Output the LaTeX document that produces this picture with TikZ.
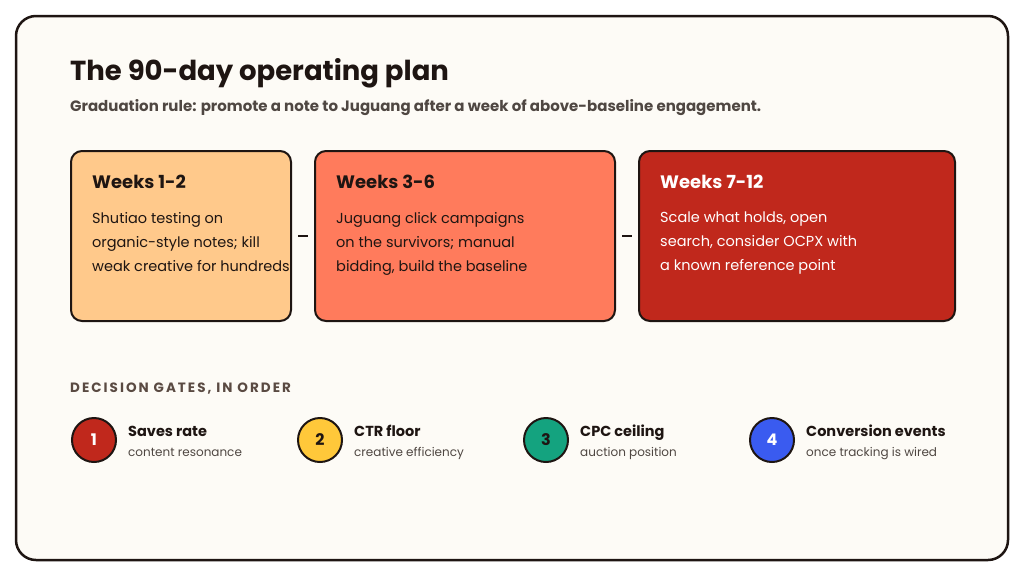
\documentclass[tikz,border=0pt]{standalone}
\usepackage{fontspec}
\setmainfont{Poppins}
\definecolor{bg}{HTML}{FDFBF6}
\definecolor{ink}{HTML}{1E1512}
\definecolor{sub}{HTML}{4F4742}
\definecolor{cA}{HTML}{FFC98B}
\definecolor{cB}{HTML}{FF7B5C}
\definecolor{cC}{HTML}{C0281C}
\definecolor{gY}{HTML}{FFC83A}
\definecolor{gG}{HTML}{14A37F}
\definecolor{gB}{HTML}{3A5BF0}
\definecolor{gate}{HTML}{5A4A42}
\begin{document}
\begin{tikzpicture}[x=1pt,y=-1pt,
 card/.style={draw=ink,line width=2pt,rounded corners=11pt,minimum height=170pt,anchor=north west},
 head/.style={anchor=base west,inner sep=0pt,font=\fontsize{18}{20}\selectfont\bfseries},
 body/.style={anchor=north west,align=left,font=\fontsize{14.5}{24}\selectfont,inner sep=0pt},
 dot/.style={circle,draw=ink,line width=2pt,minimum size=44pt,inner sep=0pt,font=\fontsize{16}{16}\selectfont\bfseries},
 gl/.style={anchor=base west,inner sep=0pt,font=\fontsize{14.5}{16}\selectfont\bfseries,text=ink},
 gs/.style={anchor=base west,inner sep=0pt,font=\fontsize{12}{13}\selectfont,text=sub},
 link/.style={draw=ink,line width=2.5pt}]
\useasboundingbox (0,0) rectangle (1024,576);
\fill[white] (0,0) rectangle (1024,576);
\draw[ink,fill=bg,line width=2.5pt,rounded corners=20pt] (16,16) rectangle (1008,560);
\node[anchor=base west,inner sep=0pt,text=ink,font=\fontsize{27.5}{30}\selectfont\bfseries] (t) at (70,80) {The 90-day operating plan};
\node[anchor=base west,inner sep=0pt,text=sub,font=\fontsize{15}{18}\selectfont\bfseries] (s) at (70,111) {Graduation rule: promote a note to Juguang after a week of above-baseline engagement.};
\node[card,fill=cA,minimum width=220pt] (c1) at (70,150) {};
\node[card,fill=cB,minimum width=300pt] (c2) at (314,150) {};
\node[card,fill=cC,minimum width=316pt] (c3) at (638,150) {};
\node[head,text=ink] at (92,188) {Weeks 1-2};
\node[head,text=ink] at (336,188) {Weeks 3-6};
\node[head,text=white] at (660,188) {Weeks 7-12};
\node[body,text=ink] at (92,212) {Shutiao testing on\\organic-style notes; kill\\weak creative for hundreds};
\node[body,text=ink] at (336,212) {Juguang click campaigns\\on the survivors; manual\\bidding, build the baseline};
\node[body,text=white] at (660,212) {Scale what holds, open\\search, consider OCPX with\\a known reference point};
\draw[link] ([xshift=6pt]c1.east) -- ([xshift=-6pt]c2.west);
\draw[link] ([xshift=6pt]c2.east) -- ([xshift=-6pt]c3.west);
\node[anchor=base west,inner sep=0pt,text=gate,font=\fontsize{13.5}{15}\selectfont\bfseries] (g) at (70,392) {\addfontfeature{LetterSpace=15}DECISION GATES, IN ORDER};
\node[dot,fill=cC,text=white] (d1) at (94,440) {1};
\node[dot,fill=gY,text=ink] (d2) at (320,440) {2};
\node[dot,fill=gG,text=ink] (d3) at (546,440) {3};
\node[dot,fill=gB,text=white] (d4) at (772,440) {4};
\node[gl] at (128,436) {Saves rate};
\node[gs] at (128,456) {content resonance};
\node[gl] at (354,436) {CTR floor};
\node[gs] at (354,456) {creative efficiency};
\node[gl] at (580,436) {CPC ceiling};
\node[gs] at (580,456) {auction position};
\node[gl] at (806,436) {Conversion events};
\node[gs] at (806,456) {once tracking is wired};
\end{tikzpicture}
\end{document}
